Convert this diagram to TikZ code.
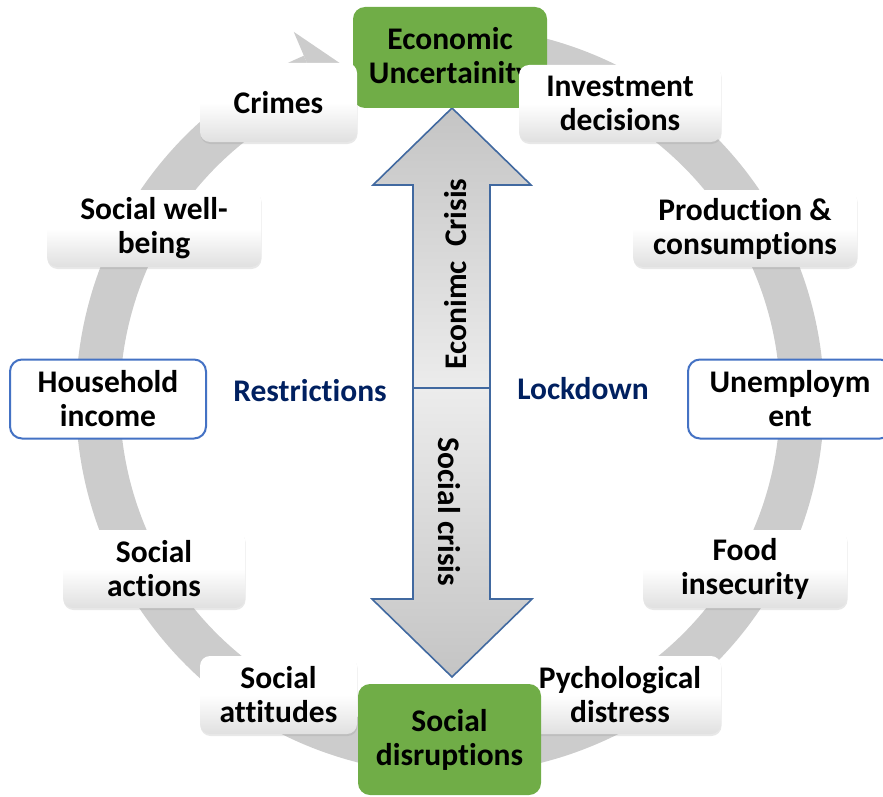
\documentclass[tikz,border=0pt]{standalone}
\usepackage{fontspec}
\setmainfont{Carlito}[Ligatures=NoCommon]
\usetikzlibrary{shadows}
\definecolor{ringgray}{RGB}{204,204,204}
\definecolor{boxgreen}{RGB}{112,173,71}
\definecolor{boxblue}{RGB}{68,114,196}
\definecolor{arrowblue}{RGB}{65,105,160}
\definecolor{navytext}{RGB}{0,32,96}
\definecolor{boxbottom}{RGB}{224,224,224}
\definecolor{arrowdark}{RGB}{196,196,196}
\definecolor{arrowlight}{RGB}{236,236,236}
\begin{document}
\begin{tikzpicture}[x=1pt,y=-1pt,
  lbl/.style={font=\bfseries\fontsize{31.5}{34}\selectfont, align=center, inner sep=0pt, text=black},
  wbox/.style={lbl, rounded corners=10pt, top color=white, bottom color=boxbottom, middle color=white,
     drop shadow={opacity=0.18, shadow xshift=0.5pt, shadow yshift=-2pt}},
  bbox/.style={lbl, rounded corners=12pt, draw=boxblue, line width=2pt, fill=white},
  gbox/.style={lbl, rounded corners=12pt, fill=boxgreen},
  mid/.style={font=\bfseries\fontsize{31.5}{34}\selectfont, text=navytext, inner sep=0pt},
  arrowtxt/.style={font=\bfseries\fontsize{31.5}{34}\selectfont, inner sep=0pt},
  bigarrow/.style={draw=arrowblue, line width=1.6pt, line join=miter}
]
\useasboundingbox (0,0) rectangle (883,797);
\clip (0,0) rectangle (883,797);

% circular ring arrow
\begin{scope}[shift={(450,400)}]
  \fill[ringgray] (75:374pt) arc[start angle=75, end angle=-247, radius=374pt]
     -- (-247:330pt) arc[start angle=-247, end angle=75, radius=330pt] -- cycle;
  \fill[ringgray] (113:400pt) -- (107.8:352pt) -- (113:304pt) -- cycle;
\end{scope}

% central double arrow
\draw[bigarrow, top color=arrowdark, bottom color=arrowlight]
  (413,388) -- (413,185) -- (373,185) -- (452,108) -- (531,185) -- (490,185) -- (490,388) -- cycle;
\draw[bigarrow, top color=arrowlight, bottom color=arrowdark]
  (413,388) -- (413,599) -- (372,599) -- (452,677) -- (532,599) -- (490,599) -- (490,388) -- cycle;
\node[arrowtxt, rotate=90] (econcrisis) at (456,274) {Econimc~~Crisis};
\node[arrowtxt, rotate=-90] (soccrisis) at (449,512) {Social crisis};

% top green box
\node[gbox, minimum width=194, minimum height=101] (econ) at (450,57.5) {Economic\\Uncertainity};

% white boxes
\node[wbox, minimum width=157, minimum height=79] (crimes) at (278.5,102.5) {Crimes};
\node[wbox, minimum width=202, minimum height=77] (invest) at (620,103.5) {Investment\\decisions};
\node[wbox, minimum width=224, minimum height=77] (prod) at (745,228.5) {Production \&\\consumptions};
\node[wbox, minimum width=214, minimum height=77] (wellbeing) at (154,228.5) {Social well-\\being};
\node[wbox, minimum width=204, minimum height=78] (food) at (745,569) {Food\\insecurity};
\node[wbox, minimum width=182, minimum height=78] (socact) at (154,569) {Social\\actions};
\node[wbox, minimum width=157, minimum height=78] (socatt) at (278.5,695) {Social\\attitudes};
\node[wbox, minimum width=202, minimum height=78] (psych) at (620,695) {Pychological\\distress};

% blue outlined boxes
\node[bbox, minimum width=196, minimum height=79] (household) at (108,399) {Household\\income};
\node[bbox, minimum width=204, minimum height=79] (unemploy) at (790,399) {Unemploym\\ent};

% bottom green box
\node[gbox, minimum width=183, minimum height=111] (socdis) at (449.5,739.5) {Social\\disruptions};

% side labels
\node[mid] (restrict) at (310,391) {Restrictions};
\node[mid] (lockdown) at (583,389) {Lockdown};
\end{tikzpicture}
\end{document}
